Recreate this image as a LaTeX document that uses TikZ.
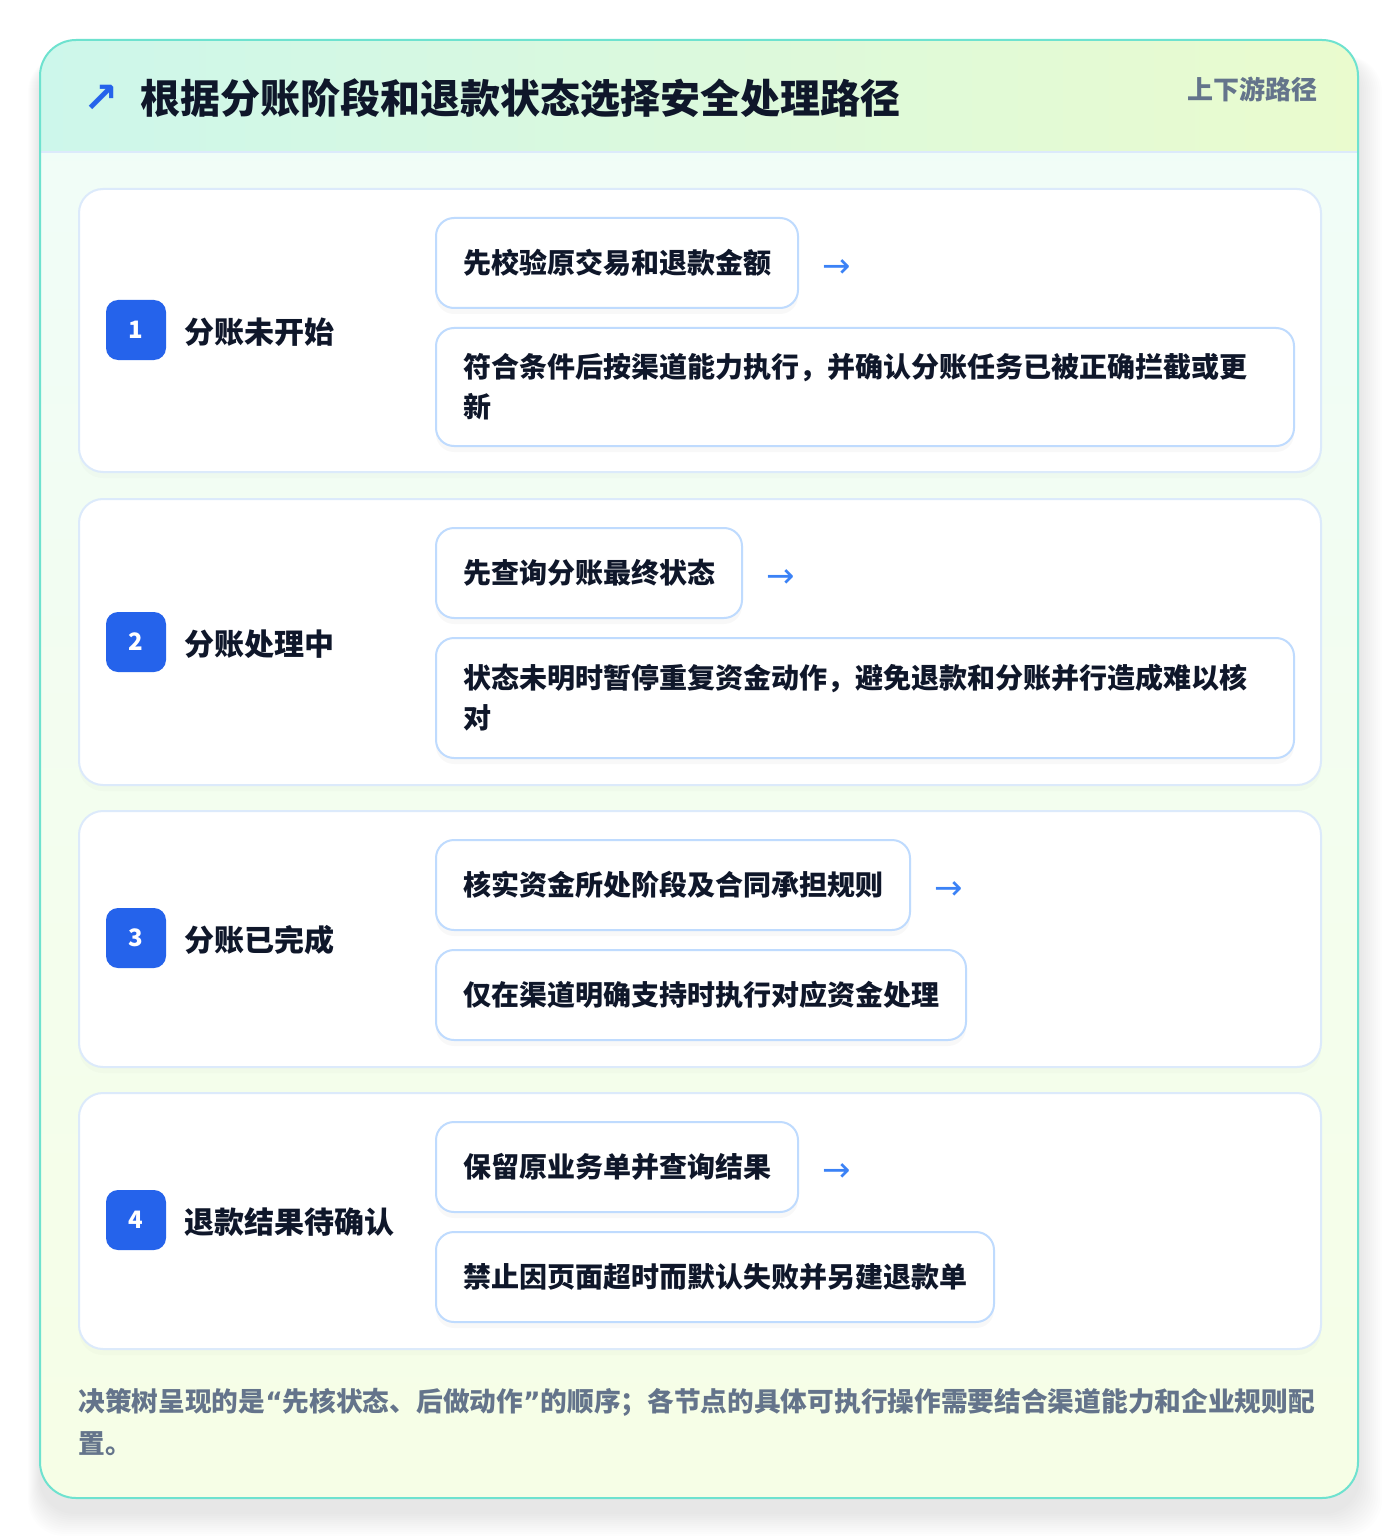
\documentclass[tikz,border=0pt]{standalone}
\usepackage{fontspec}
\setmainfont{Noto Sans CJK SC}
\newfontfamily\symfont{DejaVu Sans}
\IfFontExistsTF{Noto Sans CJK SC Black}{\newfontfamily\heavyfont{Noto Sans CJK SC Black}}{\newfontfamily\heavyfont{Noto Sans CJK SC}[UprightFeatures={FakeBold=0.5}]}
\usetikzlibrary{positioning,shadows}
\definecolor{inkc}{HTML}{0F172A}
\definecolor{mutec}{HTML}{64748B}
\definecolor{tealc}{HTML}{6EE2CF}
\definecolor{bluec}{HTML}{2563EB}
\definecolor{arrowc}{HTML}{3B82F6}
\definecolor{edgec}{HTML}{BFDBFE}
\definecolor{cardedge}{HTML}{DCEAFB}
\definecolor{headl}{HTML}{CDF7EB}
\definecolor{headr}{HTML}{EAFBCE}
\definecolor{bodyt}{HTML}{F0FDF9}
\definecolor{bodyb}{HTML}{F6FEE6}
\begin{document}
\begin{tikzpicture}[x=0.5pt,y=-0.5pt]
  \tikzstyle{cardn}=[draw=cardedge,line width=1pt,fill=white,rounded corners=12pt,drop shadow={opacity=0.03,shadow xshift=0pt,shadow yshift=-3pt}]
  \tikzstyle{stepn}=[draw=edgec,line width=1pt,fill=white,rounded corners=9pt,anchor=north west,inner xsep=13.5pt,minimum height=45pt,text=inkc,font=\fontsize{14}{20}\selectfont\bfseries,drop shadow={opacity=0.05,shadow xshift=0pt,shadow yshift=-3pt}]
  \tikzstyle{widen}=[stepn,text width=402pt,align=left,minimum height=59pt]
  \tikzstyle{badgen}=[fill=bluec,rounded corners=6pt,minimum size=30pt,inner sep=0pt,text=white,font=\heavyfont\fontsize{12}{12}\selectfont]
  \tikzstyle{labeln}=[anchor=west,inner sep=0pt,text=inkc,font=\fontsize{15}{15}\selectfont\bfseries]
  \tikzstyle{arrown}=[inner sep=0pt,yshift=-3pt,text=arrowc,font=\symfont\fontsize{17}{17}\selectfont]
  \fill[white] (0,0) rectangle (1400,1540);
  \useasboundingbox (0,0) rectangle (1400,1540);
  \foreach \i in {1,...,12}
    \fill[black,opacity=0.007,rounded corners=18pt] (40-\i,56) rectangle (1358+2*\i,1512+2*\i);
  \begin{scope}
    \clip[rounded corners=18pt] (40,40) rectangle (1358,1498);
    \shade[top color=bodyt,bottom color=bodyb] (40,40) rectangle (1358,1498);
    \shade[left color=headl,right color=headr] (40,40) rectangle (1358,152);
    \draw[cardedge,line width=1pt] (40,152) -- (1358,152);
  \end{scope}
  \draw[tealc,line width=1pt,rounded corners=18pt] (40,40) rectangle (1358,1498);
  \node(icon)[text=bluec,font=\symfont\bfseries\fontsize{21}{21}\selectfont,inner sep=0pt] at (101,99) {↗};
  \node(title)[anchor=west,inner sep=0pt,text=inkc,font=\heavyfont\fontsize{20}{20}\selectfont] at (140,98) {根据分账阶段和退款状态选择安全处理路径};
  \node(tag)[anchor=east,inner sep=0pt,text=mutec,font=\fontsize{13}{13}\selectfont\bfseries] at (1318,89) {上下游路径};
  \path[cardn] (79,189) rectangle (1321,472);
  \path[cardn] (79,499) rectangle (1321,785);
  \path[cardn] (79,811) rectangle (1321,1067);
  \path[cardn] (79,1093) rectangle (1321,1349);
  \node(b1)[badgen] at (136,330) {1};
  \node(l1)[labeln] at (184,332) {分账未开始};
  \node(s1a)[stepn] at (435,217) {先校验原交易和退款金额};
  \node(r1)[arrown,right=11.5pt of s1a] {→};
  \node(s1b)[widen] at (435,327) {符合条件后按渠道能力执行，并确认分账任务已被正确拦截或更\\新};
  \node(b2)[badgen] at (136,642) {2};
  \node(l2)[labeln] at (184,644) {分账处理中};
  \node(s2a)[stepn] at (435,527) {先查询分账最终状态};
  \node(r2)[arrown,right=11.5pt of s2a] {→};
  \node(s2b)[widen,minimum height=60pt] at (435,637) {状态未明时暂停重复资金动作，避免退款和分账并行造成难以核\\对};
  \node(b3)[badgen] at (136,938) {3};
  \node(l3)[labeln] at (184,940) {分账已完成};
  \node(s3a)[stepn] at (435,839) {核实资金所处阶段及合同承担规则};
  \node(r3)[arrown,right=11.5pt of s3a] {→};
  \node(s3b)[stepn] at (435,949) {仅在渠道明确支持时执行对应资金处理};
  \node(b4)[badgen] at (136,1220) {4};
  \node(l4)[labeln] at (184,1222) {退款结果待确认};
  \node(s4a)[stepn] at (435,1121) {保留原业务单并查询结果};
  \node(r4)[arrown,right=11.5pt of s4a] {→};
  \node(s4b)[stepn] at (435,1231) {禁止因页面超时而默认失败并另建退款单};
  \node(note)[anchor=west,inner sep=0pt,align=left,text=mutec,font=\fontsize{13.35}{21}\selectfont\bfseries] at (78,1422) {决策树呈现的是{\symfont\bfseries “}先核状态、后做动作{\symfont\bfseries ”}的顺序；各节点的具体可执行操作需要结合渠道能力和企业规则配\\置。};
\end{tikzpicture}
\end{document}
